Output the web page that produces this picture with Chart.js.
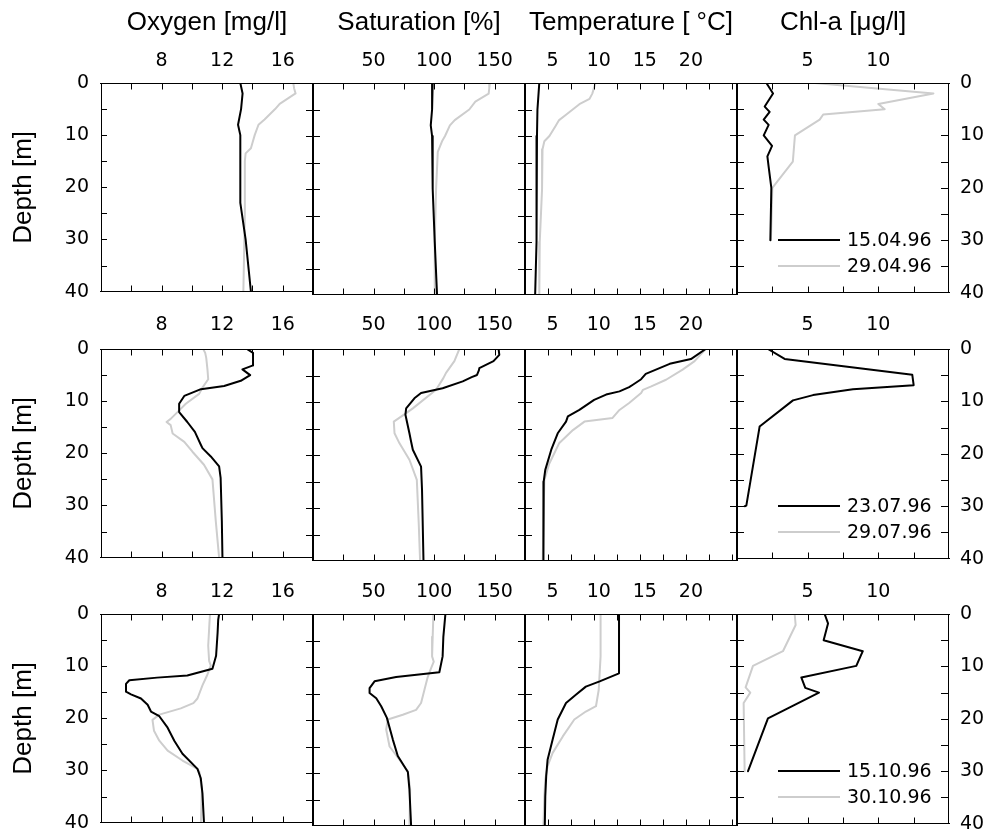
<!DOCTYPE html>
<html>
<head>
<meta charset="utf-8">
<script src="https://cdn.jsdelivr.net/npm/chart.js@4.4.0/dist/chart.umd.min.js"></script>
<style>
  body { margin: 0; background: #fff; }
  #wrap { position: relative; width: 988px; height: 835px; overflow: hidden; background: #fff; }
  #wrap canvas { position: absolute; }
</style>
</head>
<body>
<div id="wrap"></div>
<script>
// depth profiles, each point is [value, depth in m]
const oxygen_150496 = [[13.2,0],[13.35,2],[13.25,5],[13.05,8],[13.2,10],[13.2,15],[13.2,23],[13.55,30],[13.9,40]];
const oxygen_290496 = [[16.7,0],[16.75,1],[16.85,2],[15.8,4],[15.5,5],[14.8,7],[14.4,8],[14.15,10],[14.0,11.5],[13.9,12.5],[13.55,13.5],[13.5,15],[13.5,25],[13.4,40]];
const saturation_150496 = [[98.8,0],[98.3,5],[97.2,8],[98.3,10],[98.8,20],[100.5,30],[102.4,40]];
const saturation_290496 = [[146,0],[145.5,1],[145,2],[134,3.5],[129,5],[117,7],[113,8],[109,10],[106.5,11],[103,13],[101.6,20],[100.5,30],[100.5,40]];
const temperature_150496 = [[3.55,0],[3.35,5],[3.3,10],[3.3,20],[3.2,30],[3.1,40]];
const temperature_290496 = [[9.65,0],[9.3,2],[9.0,3],[7.9,4],[6.45,6],[5.7,7],[5.35,8],[4.65,10],[4.1,11],[3.9,12.5],[3.85,20],[3.6,30],[3.55,40]];
const chla_150496 = [[2.08,0],[2.55,2],[1.96,4.5],[2.31,5.5],[1.89,7],[2.24,8],[1.89,10],[2.48,12],[2.15,14],[2.24,16],[2.43,20],[2.36,30]];
const chla_290496 = [[5.5,0],[13.9,2],[10.0,4],[10.45,5],[6.1,6],[5.85,7],[4.1,10],[3.95,15],[2.5,20],[2.4,30]];

const oxygen_230796 = [[13.63,0],[14.04,0.75],[14.04,3.15],[13.34,3.9],[13.85,5],[13.23,6.1],[12.13,7.1],[10.6,7.7],[9.5,9],[9.16,10.5],[9.16,12.1],[9.7,14],[10.2,15.9],[10.6,18.4],[10.7,19],[11.25,20.6],[11.8,22.5],[11.9,24.7],[11.98,33],[12.02,40]];
const oxygen_290796 = [[10.75,0],[10.88,0.75],[10.95,1.7],[11.03,3.9],[11.08,5.8],[10.7,7.4],[10.48,8.6],[9.6,10.5],[9.05,12.1],[8.6,13.4],[8.33,14],[8.6,14.6],[8.73,16.2],[9.5,17.8],[10.04,19.7],[10.8,22.2],[11.36,25],[11.58,33],[11.8,40]];
const saturation_230796 = [[153.2,0],[153.8,1.1],[149,2.3],[137.3,3.6],[137,4],[135.4,4.9],[131,5.3],[123.6,6.1],[107,7.4],[89.2,8.3],[83.7,9.3],[76.9,11.2],[76.3,12.4],[79.6,15.9],[81,17.5],[82.4,19],[89.2,22.2],[90,26.6],[91.2,40]];
const saturation_290796 = [[120.8,0],[116.7,2.3],[109.8,4.5],[107.6,5.5],[101.6,7.7],[82.4,11.2],[76.9,12.1],[66.7,13.7],[67.3,15.9],[71.4,17.8],[79.6,20.9],[85.7,24.7],[87.3,33],[88.4,40]];
const temperature_230796 = [[21.6,0],[20,1.9],[17.7,2.8],[15.1,4.7],[14.6,5.7],[13.7,6.75],[13.3,7.2],[12.25,8],[10.8,8.6],[9.5,9.6],[7.9,11.5],[6.65,12.7],[6.45,13.7],[5.55,15.9],[4.85,19],[4.2,22.8],[4.03,25],[4.0,40]];
const temperature_290796 = [[21.6,0],[20.4,2.3],[19.1,3.9],[17.3,5.8],[15.7,7.06],[14.8,7.7],[14.6,8.3],[13.3,10.2],[12.25,11.5],[11.5,13.0],[8.45,13.7],[7.2,15.3],[5.7,17.8],[4.64,21.6],[4.1,24.7],[3.92,40]];
const chla_230796 = [[2.19,0],[3.37,1.9],[12.4,4.9],[12.5,6.9],[8.2,7.7],[5.38,8.8],[3.96,9.8],[1.6,14.8],[0.66,29.9],[0.55,30]];
const chla_290796 = [];

const oxygen_151096 = [[11.8,0],[11.74,1.1],[11.7,3.6],[11.6,8],[11.36,10.5],[9.7,11.8],[7.7,12.2],[5.87,12.7],[5.65,13.4],[5.65,14.9],[5.98,15.4],[6.64,16.2],[7.08,17.4],[7.3,18.7],[7.85,19.6],[8.4,21.8],[8.84,24.3],[9.38,26.8],[10.37,29.7],[10.59,31.5],[10.7,34.4],[10.8,40]];
const oxygen_301096 = [[11.2,0],[11.16,1.8],[11.08,6.1],[11.14,9],[11.25,9.9],[11.0,11.8],[10.7,13.7],[10.37,16.2],[10.1,17.1],[9.27,18.1],[7.85,19.3],[7.4,20.3],[7.5,22.4],[7.85,24.3],[8.4,26.2],[9.38,28.1],[10.37,29.7],[10.5,30.3],[10.66,33.7],[10.6,40]];
const saturation_151096 = [[109.3,0],[107.6,4.3],[107,8],[104.3,11],[68.6,11.9],[50.8,12.7],[46.7,14],[46.7,14.9],[52.2,15.9],[56.3,17.4],[61,19.6],[65.9,23.7],[70,26.8],[78.3,29.8],[79.6,33.1],[81,40]];
const saturation_301096 = [[99.4,0],[98.8,4.3],[98.3,8],[99.7,9],[97.5,10.2],[94.7,11.9],[92,14.3],[89.2,16.8],[85.1,18.1],[74.1,19],[61.8,19.9],[60.4,21.8],[63.2,25],[71.4,27.5],[78.3,29.7],[80.2,33.1],[79.6,40]];
const temperature_151096 = [[12.2,0],[12.2,11.2],[10.1,12.7],[8.6,13.7],[7.55,15.2],[6.45,16.8],[5.55,19.9],[5.0,23.7],[4.45,27.5],[4.3,30.6],[4.2,34.4],[4.15,40]];
const temperature_301096 = [[10.2,0],[10.2,8],[10.0,14.3],[9.7,17.4],[8.6,18.4],[7.35,19.9],[6.1,23.1],[5.0,26.2],[4.45,28.7],[4.2,31.2],[4.1,34.4],[4.0,40]];
const chla_151096 = [[6.2,0],[6.44,1.8],[6.13,5],[8.9,7.1],[8.44,9.9],[4.55,12.1],[4.83,14.1],[5.8,15],[2.19,19.9],[0.78,30]];
const chla_301096 = [[4.08,0],[4.15,2.1],[3.25,7.1],[1.13,9.9],[0.61,14],[0.94,15],[0.47,17],[0.54,30]];

const dates = [['15.04.96', '29.04.96'], ['23.07.96', '29.07.96'], ['15.10.96', '30.10.96']];
const titles = ['Oxygen [mg/l]', 'Saturation [%]', 'Temperature [ °C]', 'Chl-a [μg/l]'];
const depthTicks = [0, 10, 20, 30, 40];
const oxygenTicks = [8, 12, 16];
const saturationTicks = [50, 100, 150];
const temperatureTicks = [5, 10, 15, 20];
const chlaTicks = [5, 10];

const profiles = [
  [[oxygen_150496, oxygen_290496], [saturation_150496, saturation_290496], [temperature_150496, temperature_290496], [chla_150496, chla_290496]],
  [[oxygen_230796, oxygen_290796], [saturation_230796, saturation_290796], [temperature_230796, temperature_290796], [chla_230796, chla_290796]],
  [[oxygen_151096, oxygen_301096], [saturation_151096, saturation_301096], [temperature_151096, temperature_301096], [chla_151096, chla_301096]]
];

// axis range and minor tick step of each column
const columns = [
  { ticks: oxygenTicks, min: 4, max: 18, step: 2 },
  { ticks: saturationTicks, min: 0, max: 175, step: 25 },
  { ticks: temperatureTicks, min: 2, max: 25, step: 2.5 },
  { ticks: chlaTicks, min: 0, max: 15, step: 2.5 }
];

const BLACK = '#000';
const GREY = '#cdcdcd';
const numFont = { family: 'DejaVu Sans', size: 19 };
const titleFont = { family: 'Liberation Sans, Arial', size: 26 };

// panel grid
const rowTop = [83, 349, 614];
const colLeft = [101, 313, 525, 737];
const PW = 212, PH = 212;
const PL = 101, PT = 83, PR = 60, PB = 20;

function seg(ctx, x1, y1, x2, y2) {
  ctx.beginPath();
  ctx.moveTo(x1, y1);
  ctx.lineTo(x2, y2);
  ctx.stroke();
}

// box with inward ticks; a shared edge gets its crossing ticks from the panel on its right
const framePlugin = {
  id: 'frame',
  afterDraw(chart, args, opts) {
    const { ctx, chartArea: a, scales: { x, y } } = chart;
    const col = columns[opts.col];
    const top = Math.round(a.top) + 0.5, bottom = Math.round(a.bottom) - 0.5;
    const left = Math.round(a.left), right = Math.round(a.right);
    ctx.save();
    ctx.strokeStyle = BLACK;
    ctx.lineWidth = 1;
    seg(ctx, left - 1, top, right + 1, top);
    seg(ctx, left - 1, bottom, right + 1, bottom);
    for (let v = col.min + col.step; v < col.max - 1e-6; v += col.step) {
      const px = Math.round(x.getPixelForValue(v)) + 0.5;
      seg(ctx, px, top, px, top + 6);
      seg(ctx, px, bottom, px, bottom - 6);
    }
    const lx = opts.col === 0 ? left + 0.5 : left;
    const rx = opts.col === 3 ? right - 0.5 : right;
    ctx.lineWidth = opts.col === 0 ? 1 : 2;
    seg(ctx, lx, a.top, lx, a.bottom);
    ctx.lineWidth = opts.col === 3 ? 1 : 2;
    seg(ctx, rx, a.top, rx, a.bottom);
    ctx.lineWidth = 1;
    for (let d = 5; d < 40; d += 5) {
      const py = Math.round(y.getPixelForValue(d)) + 0.5;
      if (opts.col === 0) seg(ctx, left, py, left + 6, py);
      else seg(ctx, left - 7, py, left + 7, py);
      if (opts.col === 3) seg(ctx, right - 8, py, right, py);
    }
    ctx.restore();
  }
};

// date key inside the chlorophyll panels
const keyPlugin = {
  id: 'dateKey',
  afterDraw(chart, args, opts) {
    if (!opts.labels) return;
    const { ctx, chartArea: a, scales: { y } } = chart;
    ctx.save();
    ctx.font = numFont.size + 'px ' + numFont.family;
    ctx.textBaseline = 'middle';
    ctx.textAlign = 'left';
    ctx.lineWidth = 2;
    opts.labels.forEach((label, i) => {
      const py = Math.round(y.getPixelForValue(30 + 5 * i));
      ctx.strokeStyle = i === 0 ? BLACK : GREY;
      seg(ctx, a.right - 171, py, a.right - 109, py);
      ctx.fillStyle = BLACK;
      ctx.fillText(label, a.right - 102, py + 1);
    });
    ctx.restore();
  }
};

const wrap = document.getElementById('wrap');

for (let r = 0; r < 3; r++) {
  for (let c = 0; c < 4; c++) {
    const col = columns[c];
    const canvas = document.createElement('canvas');
    canvas.width = PL + PW + PR;
    canvas.height = PT + PH + PB;
    canvas.style.left = (colLeft[c] - PL) + 'px';
    canvas.style.top = (rowTop[r] - PT) + 'px';
    wrap.appendChild(canvas);

    const [first, second] = profiles[r][c];
    new Chart(canvas, {
      type: 'line',
      data: {
        datasets: [
          { label: dates[r][0], data: first.map(p => ({ x: p[0], y: p[1] })), borderColor: BLACK, borderWidth: 2 },
          { label: dates[r][1], data: second.map(p => ({ x: p[0], y: p[1] })), borderColor: GREY, borderWidth: 2 }
        ]
      },
      options: {
        responsive: false,
        animation: false,
        events: [],
        elements: { point: { radius: 0 }, line: { tension: 0, borderCapStyle: 'round', borderJoinStyle: 'round' } },
        layout: {
          autoPadding: false,
          padding: { left: c === 0 ? 0 : PL, right: c === 3 ? 0 : PR, top: 0, bottom: PB }
        },
        plugins: {
          legend: { display: false },
          tooltip: { enabled: false },
          frame: { col: c },
          dateKey: { labels: c === 3 ? dates[r] : null }
        },
        scales: {
          x: {
            type: 'linear',
            position: 'top',
            min: col.min,
            max: col.max,
            afterBuildTicks: s => { s.ticks = col.ticks.map(v => ({ value: v })); },
            afterFit: s => { s.height = PT; },
            grid: { display: false, drawTicks: false },
            border: { display: false },
            ticks: { color: BLACK, font: numFont, padding: r === 1 ? 13 : 11, maxRotation: 0, autoSkip: false },
            title: { display: r === 0, text: titles[c], color: BLACK, font: titleFont, padding: { top: 7, bottom: 0 } }
          },
          y: {
            type: 'linear',
            position: c === 3 ? 'right' : 'left',
            reverse: true,
            min: 0,
            max: 40,
            afterBuildTicks: s => { s.ticks = depthTicks.map(v => ({ value: v })); },
            afterFit: s => { s.width = c === 0 ? PL : (c === 3 ? PR : 0); },
            grid: { display: false, drawTicks: false },
            border: { display: false },
            ticks: { display: c === 0 || c === 3, color: BLACK, font: numFont, padding: c === 0 ? 12 : 11 },
            title: { display: c === 0, text: 'Depth [m]', color: BLACK, font: titleFont, padding: { top: 8, bottom: 0 } }
          }
        }
      },
      plugins: [framePlugin, keyPlugin]
    });
  }
}
</script>
</body>
</html>
